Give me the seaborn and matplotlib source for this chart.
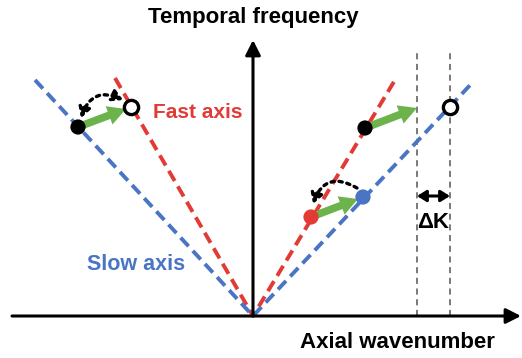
import matplotlib
matplotlib.use("Agg")
import matplotlib.pyplot as plt
from matplotlib.patches import FancyArrowPatch
import seaborn as sns
import pandas as pd

sns.set_theme(style="white")
plt.rcParams["font.family"] = ["Liberation Sans", "DejaVu Sans"]

# Dispersion branches (axial wavenumber k, temporal frequency w)
fast_k = [-138, 0, 142]
fast_w = [238, 0, 236]
slow_k = [-218, 0, 220]
slow_w = [236, 0, 234]

# Mode points
left_start = (-175, 189)     # filled, on slow branch
left_end = (-122, 209)       # open, on fast branch
right_start = (112, 188)     # filled, on fast branch
right_end = (197, 209)       # open, on slow branch
right_arrow_tip = (164, 208)
red_pt = (58, 99)            # on fast branch
blue_pt = (110, 119)         # on slow branch
deltak_k = [164, 197]

RED = "#e23b36"
BLUE = "#4a74c4"
GREEN = "#6db34b"

fig = plt.figure(figsize=(5.22, 3.58), dpi=100)
ax = fig.add_axes([0, 0, 1, 1])
ax.set_xlim(-253, 269)
ax.set_ylim(-42, 316)
ax.set_axis_off()

df = pd.DataFrame({
    "k": fast_k + slow_k,
    "w": fast_w + slow_w,
    "branch": ["Fast axis"] * 3 + ["Slow axis"] * 3,
})
sns.lineplot(data=df, x="k", y="w", hue="branch", style="branch",
             palette={"Fast axis": RED, "Slow axis": BLUE},
             dashes={"Fast axis": (3.0, 1.6), "Slow axis": (3.0, 1.6)},
             sort=False, estimator=None, lw=2.8, legend=False, ax=ax, zorder=2)

# Delta-K guides
for k in deltak_k:
    ax.plot([k, k], [0, 266], color="#555555", lw=1.1, ls=(0, (4, 3)), zorder=1)

# Coordinate axes
ax.annotate("", xy=(268, 0), xytext=(-241, 0),
            arrowprops=dict(arrowstyle="-|>,head_length=0.75,head_width=0.38",
                            color="black", lw=2.2, shrinkA=0, shrinkB=0), zorder=4)
ax.annotate("", xy=(0, 276), xytext=(0, 0),
            arrowprops=dict(arrowstyle="-|>,head_length=0.75,head_width=0.38",
                            color="black", lw=2.2, shrinkA=0, shrinkB=0), zorder=4)

# Green transitions
for (a, b) in [(left_start, (left_end[0] - 5, left_end[1] - 2)),
               (right_start, right_arrow_tip),
               (red_pt, (blue_pt[0] - 5, blue_pt[1] - 2))]:
    ax.add_patch(FancyArrowPatch(a, b,
                 arrowstyle="simple,head_width=14,head_length=13,tail_width=5.5",
                 color=GREEN, lw=0, shrinkA=0, shrinkB=0, zorder=5))

# Dotted rotation arcs
ax.add_patch(FancyArrowPatch((-172, 198), (-130, 216),
             connectionstyle="arc3,rad=-0.55",
             arrowstyle="<|-|>,head_length=6,head_width=3.5",
             color="black", lw=2.4, ls=(0, (1, 1.4)), shrinkA=0, shrinkB=0, zorder=5))
ax.add_patch(FancyArrowPatch((104, 128), (60, 112),
             connectionstyle="arc3,rad=0.6",
             arrowstyle="-|>,head_length=6,head_width=3.5",
             color="black", lw=2.4, ls=(0, (1, 1.4)), shrinkA=0, shrinkB=0, zorder=5))

# Mode markers
pts = pd.DataFrame({
    "k": [left_start[0], right_start[0], red_pt[0], blue_pt[0]],
    "w": [left_start[1], right_start[1], red_pt[1], blue_pt[1]],
    "kind": ["a", "b", "c", "d"],
})
sns.scatterplot(data=pts, x="k", y="w", hue="kind",
                palette={"a": "black", "b": "black", "c": RED, "d": BLUE},
                s=120, edgecolor="none", legend=False, ax=ax, zorder=6)
ax.scatter([left_end[0], right_end[0]], [left_end[1], right_end[1]], s=105,
           facecolor="white", edgecolor="black", linewidth=2.4, zorder=6)

# Delta-K marker
ax.annotate("", xy=(deltak_k[1], 120), xytext=(deltak_k[0], 120),
            arrowprops=dict(arrowstyle="<|-|>,head_length=0.45,head_width=0.28",
                            color="black", lw=2.2, shrinkA=0, shrinkB=0), zorder=5)
ax.text(sum(deltak_k) / 2, 94, "ΔK", ha="center", va="center",
        fontsize=16, fontweight="bold", color="black")

ax.text(-100, 204, "Fast axis", ha="left", va="center",
        fontsize=15, fontweight="bold", color=RED)
ax.text(-166, 51, "Slow axis", ha="left", va="center",
        fontsize=15.5, fontweight="bold", color=BLUE)
ax.text(0, 298, "Temporal frequency", ha="center", va="center",
        fontsize=16, fontweight="bold", color="black")
ax.text(144, -27, "Axial wavenumber", ha="center", va="center",
        fontsize=16, fontweight="bold", color="black")

fig.savefig("out.png", dpi=100)
